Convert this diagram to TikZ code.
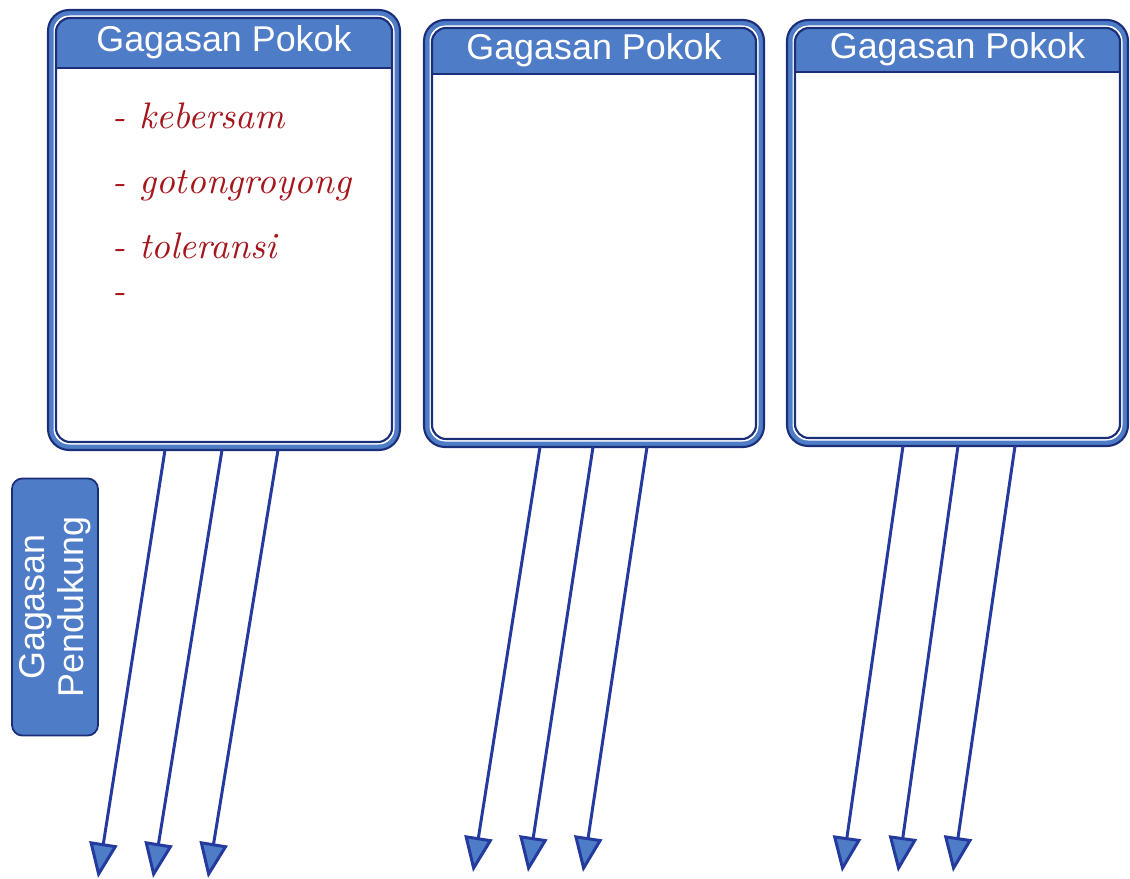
\documentclass[tikz,border=0pt]{standalone}
\usepackage{fontspec}
\setmainfont{Liberation Sans}
\newfontfamily\penfont{Latin Modern Roman}
\usetikzlibrary{arrows.meta}

\definecolor{boxblue}{RGB}{78,124,198}
\definecolor{boxnavy}{RGB}{26,46,122}
\definecolor{arrowblue}{RGB}{36,58,158}
\definecolor{ink}{RGB}{165,22,28}

\tikzset{
  outerband/.style={draw=boxnavy, fill=boxblue, line width=0.6pt, rounded corners=6pt},
  innergap/.style={fill=white, rounded corners=4.5pt},
  innerline/.style={draw=boxnavy, line width=0.6pt, rounded corners=4pt},
  headtext/.style={text=white, font=\fontsize{10.2}{12}\selectfont, inner sep=0pt},
  sidelabel/.style={draw=boxnavy, fill=boxblue, line width=0.5pt, rounded corners=3pt,
    rotate=90, text=white, align=center, font=\fontsize{10.2}{11}\selectfont,
    minimum width=2.57cm, minimum height=0.86cm, inner sep=0pt},
  pendukung/.style={draw=arrowblue, line width=0.85pt,
    -{Triangle[length=10pt, width=8pt, fill=boxblue]}},
  handnote/.style={text=ink, font=\penfont\itshape\fontsize{10.5}{12}\selectfont, anchor=west, inner sep=0pt}
}

\begin{document}
\begin{tikzpicture}[x=0.01cm, y=-0.01cm]

  \useasboundingbox (0,0) rectangle (1130,879);

  % the three frames
  \foreach \lx/\ty/\rx/\by/\hy/\n in {48/10/400/450/68/1, 424/20/764/447/74/2, 787/20/1128/446/72/3}{
    \path[outerband] (\lx,\ty) rectangle (\rx,\by);
    \path[innergap] (\lx+5.5,\ty+5.5) rectangle (\rx-5.5,\by-5.5);
    \begin{scope}
      \clip[rounded corners=4pt] (\lx+8,\ty+8) rectangle (\rx-8,\by-8);
      \fill[boxblue] (\lx,\ty) rectangle (\rx,\hy);
    \end{scope}
    \draw[innerline] (\lx+8,\ty+8) rectangle (\rx-8,\by-8);
    \draw[innerline, rounded corners=0pt] (\lx+8,\hy) -- (\rx-8,\hy);
    \node[headtext] (head\n) at ({(\lx+\rx)/2},{(\ty+\hy)/2+3}) {Gagasan Pokok};
  }

  % notes in the first frame
  \node[handnote] (note1) at (112,116) {- kebersam};
  \node[handnote] (note2) at (112,186) {- gotongroyong};
  \node[handnote] (note3) at (112,246) {- toleransi};
  \node[handnote] (note4) at (112,298) {-};

  % side label
  \node[sidelabel] (side) at (55,607) {Gagasan\\Pendukung};

  % arrows
  \foreach \n/\k/\sx/\sy/\ex/\ey in {1/1/165/450/98/878, 1/2/222/450/153/878, 1/3/278/450/208/878,
      2/1/540/447/473/872, 2/2/593/447/528/872, 2/3/647/447/583/872,
      3/1/903/446/842/872, 3/2/958/446/898/872, 3/3/1015/446/953/872}{
    \coordinate (out\n\k) at (\sx,\sy);
    \coordinate (tip\n\k) at (\ex,\ey);
    \draw[pendukung] (out\n\k) -- (tip\n\k);
  }

\end{tikzpicture}
\end{document}
